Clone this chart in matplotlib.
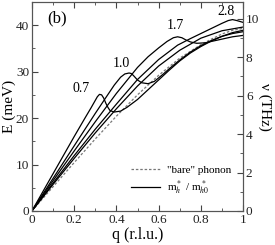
import matplotlib
matplotlib.use('Agg')
import matplotlib.pyplot as plt
from matplotlib.ticker import MultipleLocator, FixedLocator, FixedFormatter

plt.rcParams['font.family'] = ['Liberation Serif', 'DejaVu Serif']
plt.rcParams['mathtext.fontset'] = 'stix'

# "bare" phonon dispersion
q_bare = [0, .1, .2, .3, .4, .5, .6, .7, .8, .85, .9, .95, 1.0]
E_bare = [0, 5.2, 10.4, 15.5, 20.4, 25.0, 29.2, 32.9, 35.8, 37.0, 38.1, 38.9, 39.3]

# renormalised dispersions, one per m_h*/m_h0*
q_07 = [0, .1, .2, .25, .28, .30, .31, .32, .33, .34, .35, .36, .37, .39, .42, .45, .50,
        .55, .60, .65, .70, .75, .80, .85, .90, .95, 1.0]
E_07 = [0, 8.0, 16.0, 19.9, 22.2, 23.8, 24.6, 25.1, 25.0, 24.3, 23.2, 22.3, 21.6, 21.3, 21.5,
        22.3, 24.0, 26.1, 28.2, 30.3, 32.3, 34.0, 35.4, 36.6, 37.6, 38.4, 38.9]

q_10 = [0, .1, .2, .3, .35, .39, .42, .44, .46, .47, .48, .49, .50, .52, .55, .58, .62, .66,
        .70, .75, .80, .85, .90, .95, 1.0]
E_10 = [0, 7.0, 14.0, 21.0, 24.4, 27.1, 28.8, 29.5, 29.7, 29.6, 29.2, 28.7, 28.2, 27.6, 27.4,
        27.9, 29.4, 31.0, 32.5, 34.2, 35.6, 36.7, 37.6, 38.2, 38.6]

q_17 = [0, .1, .2, .3, .4, .5, .55, .6, .64, .67, .69, .71, .73, .75, .78, .82, .86, .9, .95, 1.0]
E_17 = [0, 6.5, 12.9, 19.2, 25.3, 30.9, 33.2, 35.1, 36.5, 37.3, 37.5, 37.3, 36.8, 36.4, 36.1,
        36.2, 36.6, 37.0, 37.5, 37.8]

q_28 = [0, .1, .2, .3, .4, .5, .6, .69, .75, .8, .85, .9, .93, .95, .97, 1.0]
E_28 = [0, 6.0, 11.9, 17.6, 23.0, 28.3, 32.6, 35.7, 37.1, 38.2, 39.3, 40.4, 41.0, 41.2, 41.0, 40.6]

q_hi = [0, .1, .2, .3, .4, .5, .6, .7, .8, .9, 1.0]
E_hi = [0, 5.7, 11.3, 16.8, 22.0, 26.9, 31.2, 34.6, 37.2, 38.8, 39.6]

labels = ['0.7', '1.0', '1.7', '2.8']
label_q = [0.235, 0.425, 0.68, 0.92]
label_E = [26.3, 31.7, 40.0, 43.0]

meV_per_THz = 4.1357

fig = plt.figure(figsize=(2.75, 2.45), dpi=100)
ax = fig.add_axes([0.116, 0.139, 0.768, 0.853])

ax.plot(q_bare, E_bare, color='#777777', lw=0.9, ls=(0, (2, 1.5)), label='"bare" phonon')
ax.plot(q_07, E_07, color='black', lw=0.9, label=r'm$_h^*$ / m$_{h0}^*$')
for qq, ee in [(q_10, E_10), (q_17, E_17), (q_28, E_28), (q_hi, E_hi)]:
    ax.plot(qq, ee, color='black', lw=0.9)

for t, x, y in zip(labels, label_q, label_E):
    ax.text(x, y, t, ha='center', va='center', fontsize=10)
ax.text(0.117, 41.4, '(b)', ha='center', va='center', fontsize=12)

ax.set_xlim(0, 1)
ax.set_ylim(0, 45)
ax.xaxis.set_major_locator(FixedLocator([0, .2, .4, .6, .8, 1]))
ax.xaxis.set_major_formatter(FixedFormatter(['0', '0.2', '0.4', '0.6', '0.8', '1']))
ax.xaxis.set_minor_locator(MultipleLocator(0.1))
ax.yaxis.set_major_locator(MultipleLocator(10))
ax.yaxis.set_minor_locator(MultipleLocator(5))
ax.tick_params(which='both', direction='in', top=True, right=False, labelsize=9.5,
               color='#444444', labelcolor='#222222', pad=2)
ax.tick_params(which='major', length=4)
ax.tick_params(which='minor', length=2)
for s in ax.spines.values():
    s.set_color('#555555')
    s.set_linewidth(0.8)
ax.set_xlabel('q (r.l.u.)', fontsize=11.5, labelpad=1)
ax.set_ylabel('E (meV)', fontsize=11, labelpad=0)

ax2 = ax.twinx()
ax2.set_ylim(0, 45 / meV_per_THz)
ax2.yaxis.set_major_locator(MultipleLocator(2))
ax2.yaxis.set_minor_locator(MultipleLocator(1))
ax2.tick_params(which='both', direction='in', labelsize=9.5, color='#444444', labelcolor='#222222', pad=2)
ax2.tick_params(which='major', length=4)
ax2.tick_params(which='minor', length=2)
for s in ax2.spines.values():
    s.set_color('#555555')
    s.set_linewidth(0.8)
ax2.set_ylabel('ν (THz)', fontsize=11, rotation=270, labelpad=9)

ax.legend(loc='lower right', bbox_to_anchor=(0.99, 0.02), frameon=False, fontsize=8,
          handlelength=2.6, handletextpad=0.6, labelspacing=0.3)

fig.savefig('out.png', dpi=100)
